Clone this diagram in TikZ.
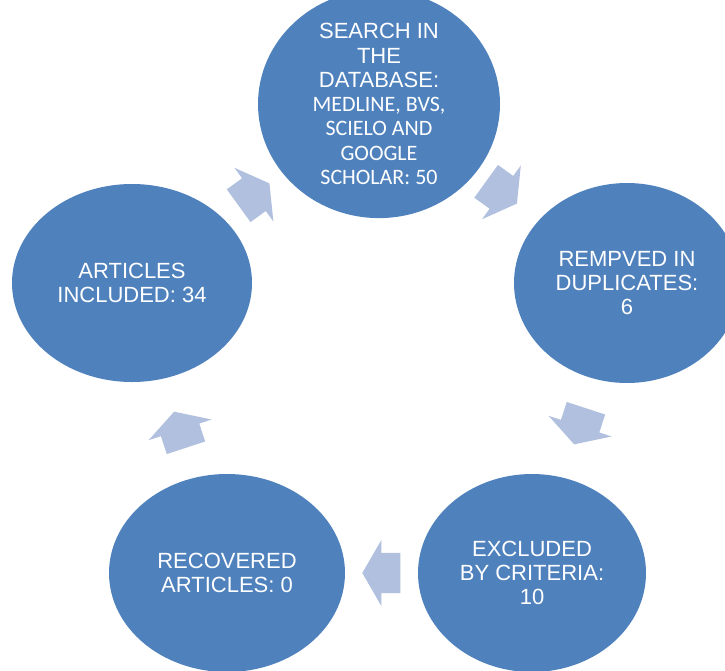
\documentclass[tikz,border=0pt]{standalone}
\usepackage{fontspec}
\setmainfont{Liberation Sans}
\newfontfamily\calibrifont{Carlito}
\usetikzlibrary{shapes.geometric,shapes.arrows}
\definecolor{stageblue}{RGB}{79,129,189}
\definecolor{arrowblue}{RGB}{176,192,222}

\begin{document}
\begin{tikzpicture}[x=1pt,y=-1pt,
	stage/.style={ellipse,fill=stageblue,text=white,inner sep=0pt,align=center,font=\fontsize{22}{24.3}\selectfont},
	cyclearrow/.style={single arrow,fill=arrowblue,inner xsep=0pt,inner ysep=20pt,minimum height=38pt,minimum width=66pt,
		single arrow head extend=13pt,single arrow tip angle=120,pos=0.475,sloped,allow upside down}]
			%%%%% START %%%%%
			
			\useasboundingbox (0,0) rectangle (725,670);
			
			\node[stage,minimum width=242pt,minimum height=196pt] (search) at (379,104) {SEARCH IN\\THE\\DATABASE:\\\calibrifont MEDLINE, BVS,\\\calibrifont SCIELO AND\\\calibrifont GOOGLE\\\calibrifont SCHOLAR: 50};
			\node[stage,minimum width=226pt,minimum height=200pt] (duplicates) at (627,283) {REMPVED IN\\DUPLICATES:\\6};
			\node[stage,minimum width=228pt,minimum height=198pt] (excluded) at (532,573) {EXCLUDED\\BY CRITERIA:\\10};
			\node[stage,minimum width=236pt,minimum height=198pt] (recovered) at (227,573) {RECOVERED\\ARTICLES: 0};
			\node[stage,minimum width=240pt,minimum height=198pt] (included) at (132,283) {ARTICLES\\INCLUDED: 34};
			
			\path (included.center) -- node[cyclearrow] {} (search.center);
			\path (search.center) -- node[cyclearrow] {} (duplicates.center);
			\path (duplicates.center) -- node[cyclearrow] {} (excluded.center);
			\path (excluded.center) -- node[cyclearrow] {} (recovered.center);
			\path (recovered.center) -- node[cyclearrow] {} (included.center);
			
			%%%%% END %%%%%
\end{tikzpicture}
\end{document}
